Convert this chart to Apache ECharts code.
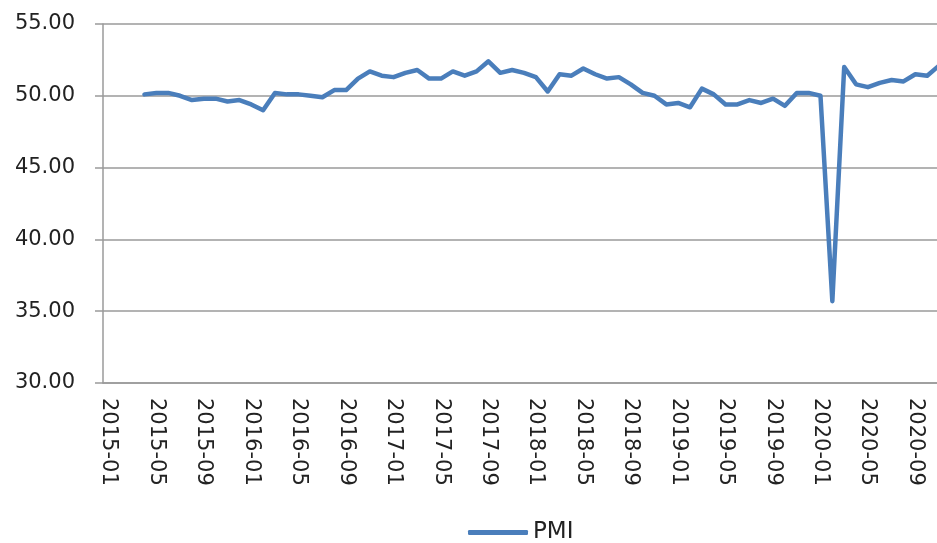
<!DOCTYPE html>
<html>
<head>
<meta charset="utf-8">
<script src="https://cdn.jsdelivr.net/npm/echarts@6/dist/echarts.min.js"></script>
<style>
  html, body { margin: 0; padding: 0; background: #fff; }
  #chart { width: 937px; height: 543px; }
</style>
</head>
<body>
<div id="chart"></div>
<script>
  // months 2015-01 .. 2020-11
  var months = [];
  for (var y = 2015; y <= 2020; y++) {
    for (var m = 1; m <= 12; m++) {
      if (y === 2020 && m > 11) break;
      months.push(y + '-' + (m < 10 ? '0' + m : m));
    }
  }

  // PMI values (first three months have no data in the chart)
  var pmi2015 = [null, null, null, 50.1, 50.2, 50.2, 50.0, 49.7, 49.8, 49.8, 49.6, 49.7];
  var pmi2016 = [49.4, 49.0, 50.2, 50.1, 50.1, 50.0, 49.9, 50.4, 50.4, 51.2, 51.7, 51.4];
  var pmi2017 = [51.3, 51.6, 51.8, 51.2, 51.2, 51.7, 51.4, 51.7, 52.4, 51.6, 51.8, 51.6];
  var pmi2018 = [51.3, 50.3, 51.5, 51.4, 51.9, 51.5, 51.2, 51.3, 50.8, 50.2, 50.0, 49.4];
  var pmi2019 = [49.5, 49.2, 50.5, 50.1, 49.4, 49.4, 49.7, 49.5, 49.8, 49.3, 50.2, 50.2];
  var pmi2020 = [50.0, 35.7, 52.0, 50.8, 50.6, 50.9, 51.1, 51.0, 51.5, 51.4, 52.1];
  var pmi = [].concat(pmi2015, pmi2016, pmi2017, pmi2018, pmi2019, pmi2020);

  var yMin = 30, yMax = 55, yStep = 5;

  var chart = echarts.init(document.getElementById('chart'));
  chart.setOption({
    animation: false,
    textStyle: { fontFamily: 'DejaVu Sans' },
    // plot runs a little past the right edge, like the cropped original
    grid: { left: 103, top: 24, width: 842, height: 359, outerBoundsMode: 'none' },
    legend: {
      left: 463,
      top: 516,
      icon: 'roundRect',
      itemWidth: 60,
      itemHeight: 5,
      textStyle: { fontSize: 23, color: '#222' },
      data: ['PMI']
    },
    xAxis: {
      type: 'category',
      data: months,
      boundaryGap: true,
      axisLine: { lineStyle: { color: '#9a9a9a', width: 1.5 } },
      axisTick: { interval: 3, length: 9, lineStyle: { color: '#9a9a9a', width: 1.5 } },
      axisLabel: {
        interval: 3,
        rotate: -90,
        margin: 15,
        fontSize: 21,
        color: '#222'
      },
      splitLine: { show: false }
    },
    yAxis: {
      type: 'value',
      min: yMin,
      max: yMax,
      interval: yStep,
      axisLine: { show: true, lineStyle: { color: '#9a9a9a', width: 1.5 } },
      axisTick: { show: true, length: 8, lineStyle: { color: '#9a9a9a', width: 1.5 } },
      axisLabel: {
        margin: 28,
        fontSize: 21,
        color: '#222',
        formatter: function (v) { return v.toFixed(2); }
      },
      splitLine: { lineStyle: { color: '#9a9a9a', width: 1.5 } }
    },
    series: [{
      name: 'PMI',
      type: 'line',
      data: pmi,
      symbol: 'none',
      connectNulls: false,
      lineStyle: { color: '#4a7ebb', width: 4.5, cap: 'round', join: 'round' },
      itemStyle: { color: '#4a7ebb' }
    }]
  });
</script>
</body>
</html>
